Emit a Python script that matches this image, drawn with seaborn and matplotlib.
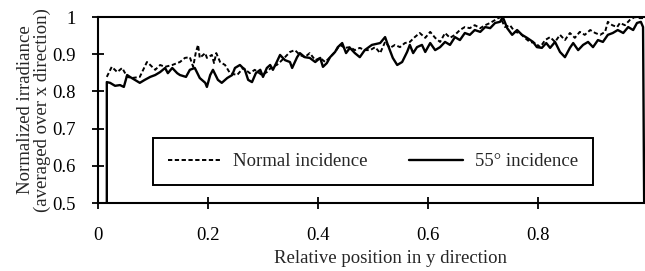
import matplotlib
matplotlib.use("Agg")
import matplotlib.pyplot as plt
import seaborn as sns
import pandas as pd

# ---- data ----
normal_x = [0.016, 0.025, 0.035, 0.044, 0.053, 0.062, 0.076, 0.089, 0.095, 0.104,
            0.113, 0.122, 0.135, 0.149, 0.158, 0.167, 0.173, 0.178, 0.182, 0.185,
            0.195, 0.198, 0.207, 0.211, 0.215, 0.222, 0.231, 0.240, 0.253, 0.264,
            0.276, 0.285, 0.298, 0.307, 0.316, 0.325, 0.331, 0.340, 0.349, 0.358,
            0.367, 0.376, 0.385, 0.395, 0.404, 0.413, 0.422, 0.431, 0.440, 0.449,
            0.458, 0.467, 0.476, 0.485, 0.495, 0.504, 0.513, 0.522, 0.531, 0.540,
            0.549, 0.558, 0.567, 0.576, 0.585, 0.595, 0.604, 0.613, 0.622, 0.631,
            0.640, 0.649, 0.658, 0.667, 0.676, 0.685, 0.695, 0.704, 0.713, 0.722,
            0.731, 0.740, 0.749, 0.758, 0.767, 0.776, 0.785, 0.795, 0.804, 0.813,
            0.822, 0.831, 0.840, 0.849, 0.858, 0.867, 0.876, 0.885, 0.895, 0.904,
            0.913, 0.922, 0.927, 0.935, 0.944, 0.949, 0.958, 0.967, 0.976, 0.985,
            0.991]
normal_y = [0.839, 0.866, 0.852, 0.863, 0.839, 0.836, 0.839, 0.879, 0.871, 0.858,
            0.871, 0.866, 0.871, 0.879, 0.890, 0.892, 0.866, 0.906, 0.925, 0.890,
            0.903, 0.890, 0.898, 0.876, 0.903, 0.879, 0.871, 0.849, 0.844, 0.863,
            0.849, 0.858, 0.844, 0.852, 0.866, 0.871, 0.879, 0.892, 0.906, 0.911,
            0.898, 0.892, 0.903, 0.884, 0.890, 0.879, 0.892, 0.906, 0.925, 0.917,
            0.919, 0.911, 0.917, 0.911, 0.911, 0.919, 0.903, 0.933, 0.917, 0.925,
            0.919, 0.930, 0.933, 0.946, 0.957, 0.944, 0.960, 0.944, 0.933, 0.957,
            0.944, 0.952, 0.965, 0.973, 0.970, 0.978, 0.970, 0.978, 0.984, 0.992,
            1.000, 0.973, 0.978, 0.960, 0.957, 0.944, 0.933, 0.930, 0.919, 0.938,
            0.946, 0.933, 0.952, 0.938, 0.957, 0.944, 0.960, 0.952, 0.965, 0.957,
            0.952, 0.960, 0.987, 0.978, 0.973, 0.984, 0.978, 0.992, 1.000, 0.997,
            0.997]

oblique_x = [0.016, 0.016, 0.022, 0.031, 0.040, 0.047, 0.053, 0.058, 0.067, 0.076,
             0.085, 0.095, 0.104, 0.113, 0.122, 0.127, 0.135, 0.144, 0.149, 0.160,
             0.167, 0.176, 0.185, 0.195, 0.198, 0.204, 0.209, 0.218, 0.225, 0.235,
             0.244, 0.249, 0.258, 0.267, 0.273, 0.280, 0.287, 0.295, 0.300, 0.307,
             0.313, 0.318, 0.325, 0.331, 0.340, 0.349, 0.353, 0.362, 0.367, 0.376,
             0.385, 0.395, 0.404, 0.409, 0.416, 0.422, 0.431, 0.436, 0.444, 0.451,
             0.458, 0.467, 0.476, 0.485, 0.498, 0.513, 0.522, 0.527, 0.536, 0.544,
             0.553, 0.562, 0.567, 0.573, 0.580, 0.589, 0.595, 0.604, 0.613, 0.622,
             0.631, 0.640, 0.649, 0.658, 0.667, 0.676, 0.685, 0.695, 0.704, 0.713,
             0.722, 0.731, 0.736, 0.744, 0.753, 0.762, 0.771, 0.780, 0.791, 0.798,
             0.807, 0.815, 0.822, 0.831, 0.840, 0.849, 0.858, 0.864, 0.873, 0.882,
             0.891, 0.900, 0.909, 0.918, 0.927, 0.936, 0.945, 0.955, 0.964, 0.973,
             0.980, 0.987, 0.991, 0.993]
oblique_y = [0.500, 0.825, 0.823, 0.815, 0.817, 0.812, 0.844, 0.839, 0.831, 0.823,
             0.831, 0.839, 0.844, 0.852, 0.863, 0.849, 0.863, 0.849, 0.844, 0.839,
             0.858, 0.863, 0.836, 0.823, 0.812, 0.844, 0.858, 0.831, 0.823, 0.836,
             0.844, 0.863, 0.871, 0.858, 0.831, 0.825, 0.849, 0.858, 0.839, 0.863,
             0.871, 0.858, 0.879, 0.898, 0.884, 0.879, 0.863, 0.892, 0.903, 0.892,
             0.890, 0.879, 0.890, 0.866, 0.876, 0.892, 0.906, 0.919, 0.930, 0.903,
             0.917, 0.903, 0.892, 0.911, 0.925, 0.930, 0.946, 0.925, 0.890, 0.871,
             0.879, 0.906, 0.925, 0.903, 0.919, 0.925, 0.906, 0.930, 0.911, 0.919,
             0.933, 0.925, 0.946, 0.938, 0.957, 0.952, 0.965, 0.960, 0.973, 0.970,
             0.984, 0.987, 1.000, 0.970, 0.952, 0.965, 0.952, 0.944, 0.933, 0.919,
             0.917, 0.930, 0.917, 0.933, 0.906, 0.892, 0.917, 0.930, 0.911, 0.925,
             0.933, 0.919, 0.938, 0.933, 0.952, 0.957, 0.965, 0.957, 0.973, 0.965,
             0.984, 0.987, 0.973, 0.500]

series_labels = ["Normal incidence", "55\u00b0 incidence"]
x_ticks = [0, 0.2, 0.4, 0.6, 0.8]
x_tick_labels = ["0", "0.2", "0.4", "0.6", "0.8"]
y_ticks = [0.5, 0.6, 0.7, 0.8, 0.9, 1.0]
y_tick_labels = ["0.5", "0.6", "0.7", "0.8", "0.9", "1"]

df_normal = pd.DataFrame({"x": normal_x, "y": normal_y})
df_oblique = pd.DataFrame({"x": oblique_x, "y": oblique_y})

# ---- style ----
sns.set_style("ticks")
plt.rcParams["font.family"] = ["Liberation Serif", "DejaVu Serif"]
FS = 13.5
plt.rcParams["font.size"] = FS

fig = plt.figure(figsize=(6.45, 2.71), dpi=100)
ax = fig.add_axes([98 / 645, 68 / 271, 547 / 645, 186 / 271])

sns.lineplot(data=df_normal, x="x", y="y", ax=ax, estimator=None, sort=False,
             color="black", linewidth=1.4, linestyle=(0, (2.2, 1.3)),
             label=series_labels[0])
sns.lineplot(data=df_oblique, x="x", y="y", ax=ax, estimator=None, sort=False,
             color="black", linewidth=1.7, linestyle="-",
             label=series_labels[1])

ax.set_xlim(0, 547 / 550)
ax.set_ylim(0.5, 1.0)
ax.set_xticks(x_ticks)
ax.set_xticklabels(x_tick_labels)
ax.set_yticks(y_ticks)
ax.set_yticklabels(y_tick_labels)

for side in ["left", "bottom", "top"]:
    ax.spines[side].set_visible(True)
    ax.spines[side].set_linewidth(1.5)
    ax.spines[side].set_color("black")
ax.spines["right"].set_visible(False)

ax.tick_params(axis="both", direction="inout", length=8, width=1.3,
               colors="black", labelsize=FS)
ax.tick_params(axis="x", pad=13)
ax.tick_params(axis="y", pad=12)

ax.set_xlabel("Relative position in y direction", fontsize=FS, labelpad=2)
ax.xaxis.set_label_coords((390 - 98) / 547, -0.255)
ax.set_ylabel("Normalized irradiance\n(averaged over x direction)", fontsize=FS,
              labelpad=1, linespacing=0.95)

leg = ax.legend(loc="center", bbox_to_anchor=(0.502, 0.223), ncol=2,
                frameon=True, fancybox=False, handlelength=2.9,
                handletextpad=0.6, columnspacing=2.2, borderpad=0.8,
                fontsize=FS)
leg.get_frame().set_edgecolor("black")
leg.get_frame().set_linewidth(1.4)
leg.get_frame().set_alpha(1)

fig.savefig("out.png", dpi=100)
